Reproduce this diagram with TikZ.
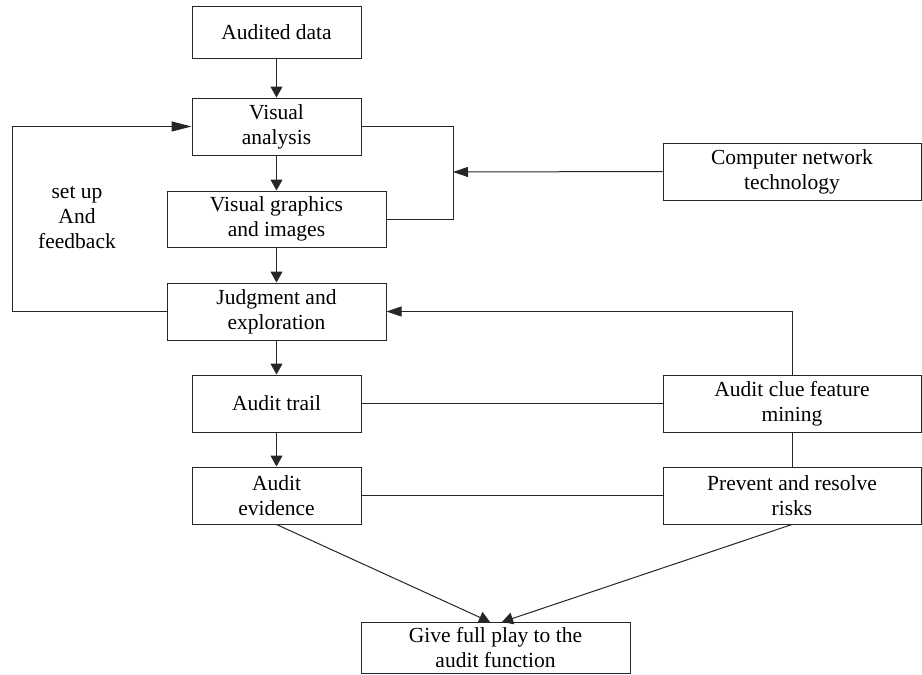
\documentclass[tikz,border=0pt]{standalone}
\usepackage{fontspec}
\setmainfont{Liberation Serif}
\usetikzlibrary{arrows.meta}
\begin{document}
\begin{tikzpicture}[x=1pt,y=-1pt,
  box/.style={draw=black!85, line width=1pt, inner sep=0pt, align=center,
    font=\fontsize{21.5}{25}\selectfont},
  lbl/.style={inner sep=0pt, align=center, font=\fontsize{21.5}{25}\selectfont},
  conn/.style={draw=black!85, line width=1pt},
  varr/.style={conn, -{Triangle[length=11pt,width=12pt]}},
  harr/.style={conn, -{Triangle[length=15pt,width=10pt]}},
  farr/.style={conn, -{Triangle[length=20pt,width=10pt]}}
]
\useasboundingbox (0,0) rectangle (922,675);
\fill[white] (0,0) rectangle (922,675);

\node[box, minimum width=169pt, minimum height=52pt] (ad) at (276.5,32) {Audited data};
\node[box, minimum width=169pt, minimum height=57pt] (va) at (276.5,126.5) {Visual\\analysis};
\node[box, minimum width=219pt, minimum height=56pt] (vg) at (276.5,219) {Visual graphics\\and images};
\node[box, minimum width=219pt, minimum height=57pt] (je) at (276.5,311.5) {Judgment and\\exploration};
\node[box, minimum width=169pt, minimum height=57pt] (at) at (276.5,403.5) {Audit trail};
\node[box, minimum width=169pt, minimum height=57pt] (ae) at (276.5,495.5) {Audit\\evidence};
\node[box, minimum width=269pt, minimum height=51pt] (gf) at (495.5,647.5) {Give full play to the\\audit function};
\node[box, minimum width=258pt, minimum height=57pt] (cn) at (792,171.5) {Computer network\\technology};
\node[box, minimum width=258pt, minimum height=57pt] (ac) at (792,403.5) {Audit clue feature\\mining};
\node[box, minimum width=258pt, minimum height=57pt] (pr) at (792,495.5) {Prevent and resolve\\risks};
\node[lbl] (fbl) at (77,218) {set up\\And\\feedback};

\coordinate (fbx) at (12,0);
\coordinate (brk) at (453,172);
\coordinate (gl) at (490,622);
\coordinate (gr) at (502,622);

\draw[varr] (ad.south) -- (va.north);
\draw[varr] (va.south) -- (vg.north);
\draw[varr] (vg.south) -- (je.north);
\draw[varr] (je.south) -- (at.north);
\draw[varr] (at.south) -- (ae.north);

\draw[farr] (je.west) -- (je.west -| fbx) -- (va.west -| fbx) -- (va.west);
\draw[conn] (va.east) -- (va.east -| brk) -- (vg.east -| brk) -- (vg.east);
\draw[harr] (cn.west) -- (brk);
\draw[harr] (ac.north) -- (ac.north |- je.east) -- (je.east);
\draw[conn] (ac.south) -- (pr.north);
\draw[conn] (at.east) -- (ac.west);
\draw[conn] (ae.east) -- (pr.west);
\draw[varr] (ae.south) -- (gl);
\draw[varr] (pr.south) -- (gr);
\end{tikzpicture}
\end{document}
